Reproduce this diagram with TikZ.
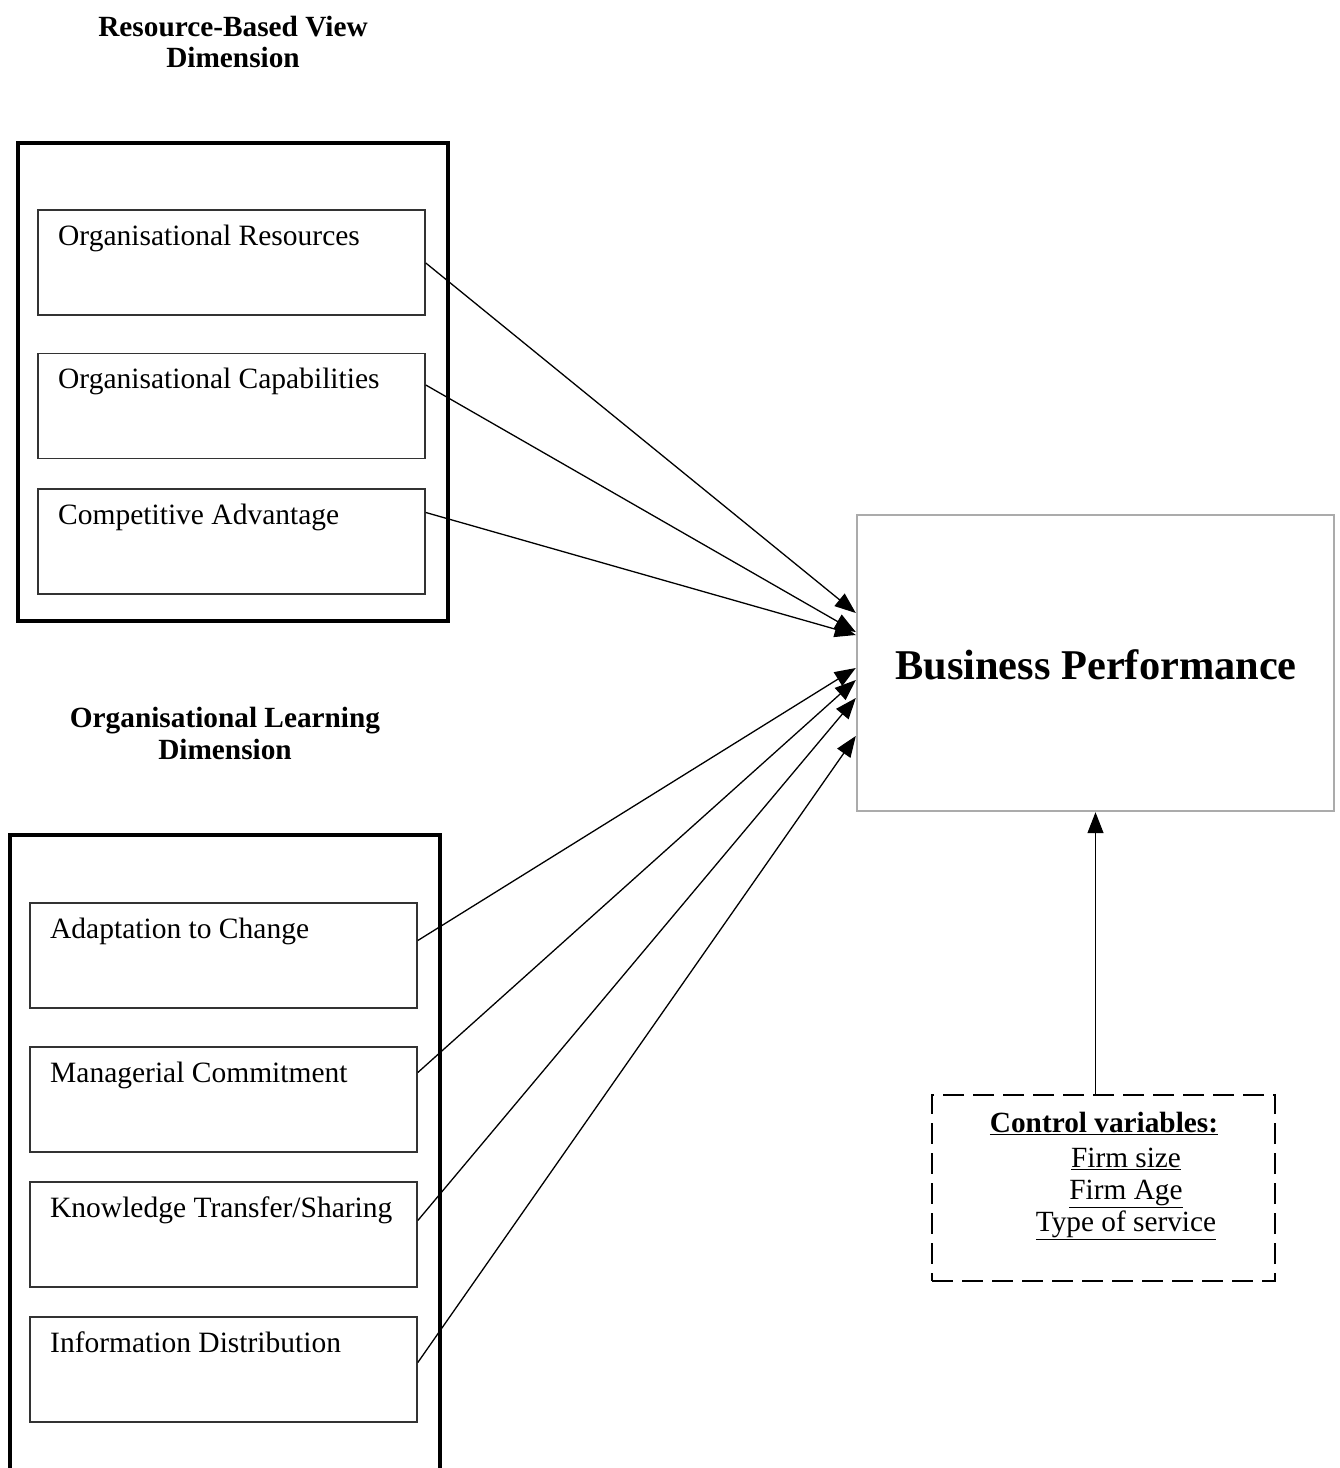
\documentclass[tikz,border=0pt]{standalone}
\usepackage{fontspec}
\setmainfont{Liberation Serif}
\usetikzlibrary{arrows.meta}
\begin{document}
\begin{tikzpicture}[x=1pt,y=-1pt,
  outerbox/.style={draw=black,line width=3.2pt},
  innerbox/.style={draw=black!80,line width=1.6pt,minimum width=387pt,minimum height=105pt,inner sep=0pt},
  itext/.style={anchor=base west,inner sep=0pt,font=\fontsize{29.5}{34}\selectfont},
  title/.style={anchor=base,inner sep=0pt,font=\fontsize{29.3}{34}\selectfont\bfseries},
  link/.style={line width=1.3pt,-{Triangle[length=21pt,width=16pt]}},
  ctext/.style={anchor=base,inner sep=0pt,font=\fontsize{29.3}{34}\selectfont}
]
\clip (0,0) rectangle (1340,1468);
\fill[white] (0,0) rectangle (1340,1468);

% titles
\node[title] (t1a) at (233,36) {Resource-Based View};
\node[title] (t1b) at (233,67) {Dimension};
\node[title] (t2a) at (225,727) {Organisational Learning};
\node[title] (t2b) at (225,759) {Dimension};

% outer boxes
\draw[outerbox] (18,143) rectangle (448,621);
\draw[outerbox] (10,835) rectangle (440,1520);

% upper inner boxes
\node[innerbox] (or) at (231.5,262.5) {};
\node[innerbox] (oc) at (231.5,406) {};
\node[innerbox] (ca) at (231.5,541.5) {};
\node[itext] (ort) at (58,245) {Organisational Resources};
\node[itext] (oct) at (58,388) {Organisational Capabilities};
\node[itext] (cat) at (58,524) {Competitive Advantage};

% lower inner boxes
\node[innerbox] (ac) at (223.5,955.5) {};
\node[innerbox] (mc) at (223.5,1099.5) {};
\node[innerbox] (kt) at (223.5,1234.5) {};
\node[innerbox] (id) at (223.5,1369.5) {};
\node[itext] (act) at (50,938) {Adaptation to Change};
\node[itext] (mct) at (50,1082) {Managerial Commitment};
\node[itext] (ktt) at (50,1217) {Knowledge Transfer/Sharing};
\node[itext] (idt) at (50,1352) {Information Distribution};

% business performance
\node[draw=black!33,line width=2.4pt,minimum width=477pt,minimum height=296pt,inner sep=0pt] (bp) at (1095.5,663) {};
\node[anchor=base,inner sep=0pt,font=\fontsize{42.4}{48}\selectfont\bfseries] (bpt) at (1096,679) {Business Performance};

% control variables
\node[draw=black,line width=2.6pt,dash pattern=on 21pt off 9pt,minimum width=343pt,minimum height=186pt,inner sep=0pt] (cv) at (1103.5,1188) {};
\node[ctext,font=\fontsize{29.3}{34}\selectfont\bfseries] (cv1) at (1104,1132) {\underline{Control variables:}};
\node[ctext] (cv2) at (1126,1167) {\underline{Firm size}};
\node[ctext] (cv3) at (1126,1199) {\underline{Firm Age}};
\node[ctext] (cv4) at (1126,1231) {\underline{Type of service}};

% arrows
\draw[link] ([yshift=-0.5pt]or.east) -- ([yshift=50pt]bp.west);
\draw[link] ([yshift=21pt]oc.east) -- ([yshift=31pt]bp.west);
\draw[link] ([yshift=29pt]ca.east) -- ([yshift=28pt]bp.west);
\draw[link] ([yshift=15pt]ac.east) -- ([yshift=-5pt]bp.west);
\draw[link] ([yshift=27pt]mc.east) -- ([yshift=-17pt]bp.west);
\draw[link] ([yshift=14pt]kt.east) -- ([yshift=-35pt]bp.west);
\draw[link] ([yshift=7pt]id.east) -- ([yshift=-73pt]bp.west);
\draw[link] (cv.north -| bp.south) -- (bp.south);
\end{tikzpicture}
\end{document}
